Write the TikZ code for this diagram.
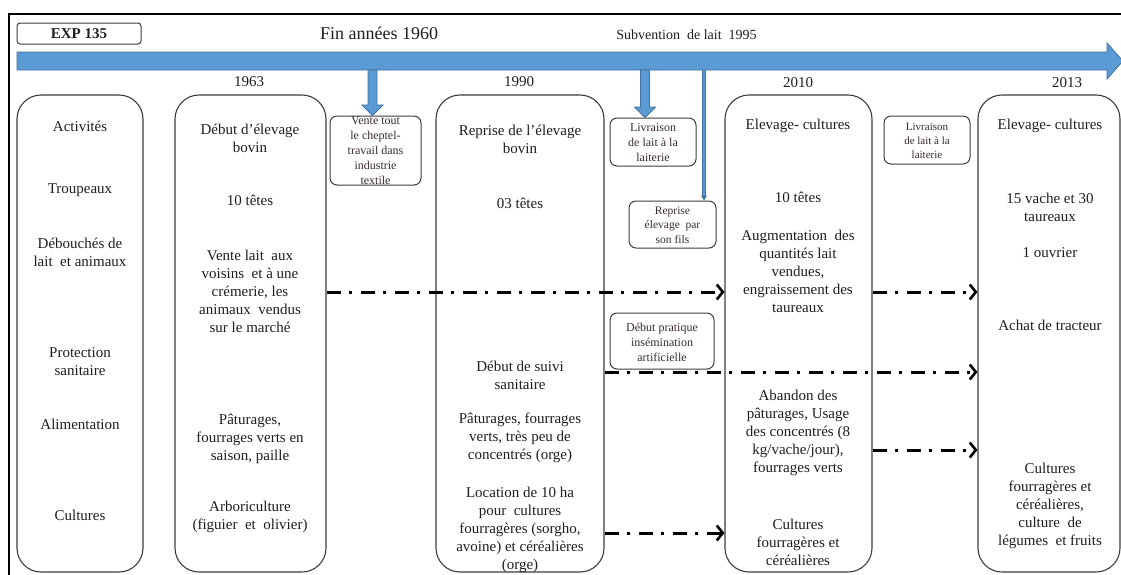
\documentclass[tikz,border=0pt]{standalone}
\usepackage{fontspec}
\setmainfont{Liberation Serif}
\usetikzlibrary{arrows.meta,calc}
\definecolor{barblue}{HTML}{5B9BD5}
\definecolor{baredge}{HTML}{41719C}
\definecolor{boxedge}{HTML}{3C3C3C}
\definecolor{smalltext}{HTML}{3A2A30}
\definecolor{maintext}{HTML}{1E1E1E}
\begin{document}
\begin{tikzpicture}[x=1pt,y=-1pt,
  bigbox/.style={draw=boxedge, line width=1.1pt, rounded corners=24pt, minimum height=477pt, inner sep=0pt},
  smallbox/.style={draw=boxedge, line width=1pt, rounded corners=7pt, inner sep=0pt},
  txt/.style={align=center, font=\fontsize{15}{18}\selectfont, text=maintext, inner sep=0pt},
  stxt/.style={align=center, font=\fontsize{12}{15}\selectfont, text=smalltext, inner sep=0pt},
  yeartxt/.style={font=\fontsize{15}{18}\selectfont, text=maintext, inner sep=0pt},
  flow/.style={line width=3pt, dash pattern=on 14pt off 8pt on 3pt off 9pt, -{Straight Barb[length=6pt,width=15pt,line width=2.6pt]}},
  blockarrow/.style={fill=barblue, draw=baredge, line width=0.8pt},
]
\useasboundingbox (0,0) rectangle (1121,574);
\clip (0,0) rectangle (1121,574);
\fill[white] (0,0) rectangle (1121,574);

% outer frame
\draw[line width=1.3pt, black] (9,14) rectangle (1140,590);

% header
\node[draw=boxedge, line width=1pt, rounded corners=3pt, minimum width=124pt, minimum height=21pt, inner sep=0pt,
  font=\fontsize{15}{18}\selectfont\bfseries, text=maintext] (exp) at (79,33.5) {EXP 135};
\node[font=\fontsize{18}{20}\selectfont, text=maintext, inner sep=0pt] (fin) at (379,33) {Fin années 1960};
\node[font=\fontsize{14}{16}\selectfont, text=maintext, inner sep=0pt] (sub) at (686.5,35) {Subvention\ \ de lait\ \ 1995};

% timeline bar
\draw[blockarrow] (17,52) -- (1107,52) -- (1107,43) -- (1123,61) -- (1107,79) -- (1107,70) -- (17,70) -- cycle;
\coordinate (bar) at (560,70);

% years
\node[yeartxt] (y1963) at (249,82) {1963};
\node[yeartxt] (y1990) at (519,82) {1990};
\node[yeartxt] (y2010) at (798,83) {2010};
\node[yeartxt] (y2013) at (1067,83) {2013};

% big columns
\node[bigbox, minimum width=126pt] (c1) at (80,333.5) {};
\node[bigbox, minimum width=151pt] (c2) at (250.5,333.5) {};
\node[bigbox, minimum width=168pt] (c3) at (520,333.5) {};
\node[bigbox, minimum width=147pt] (c4) at (798.5,333.5) {};
\node[bigbox, minimum width=142pt] (c5) at (1049,333.5) {};

% small boxes
\node[smallbox, minimum width=91pt, minimum height=69pt] (s1) at (375.5,150.5) {};
\node[smallbox, minimum width=86pt, minimum height=48pt] (s2) at (653,142) {};
\node[smallbox, minimum width=87pt, minimum height=47pt] (s3) at (672.5,224.5) {};
\node[smallbox, minimum width=104pt, minimum height=56pt] (s4) at (662,341) {};
\node[smallbox, minimum width=86pt, minimum height=48pt] (s5) at (927,140) {};

\node[stxt] (s1t) at (375.5,151) {Vente tout\\le cheptel-\\travail dans\\industrie\\textile};
\node[stxt] (s2t) at (653,143) {Livraison\\de lait à la\\laiterie};
\node[stxt, font=\fontsize{11.5}{14.5}\selectfont] (s3t) at (672.5,225) {Reprise\\élevage\ \ par\\son fils};
\node[stxt] (s4t) at (662,342) {Début pratique\\insémination\\artificielle};
\node[stxt, font=\fontsize{11}{14}\selectfont] (s5t) at (927,140.5) {Livraison\\de lait à la\\laiterie};

% block arrows from the bar
\draw[blockarrow] (368,70) -- (377,70) -- (377,105) -- (383,105) -- (s1.north -| 372.5,0) -- (362,105) -- (368,105) -- cycle;
\draw[blockarrow] (640.5,70) -- (649.5,70) -- (649.5,107) -- (655.5,107) -- (s2.north -| 645,0) -- (634.5,107) -- (640.5,107) -- cycle;
% thin arrow to s3
\draw[line width=3.6pt, draw=baredge] (bar -| 704,0) -- ($(s3.north -| 704,0)+(0,-4)$);
\draw[line width=2pt, draw=barblue] (bar -| 704,0) -- ($(s3.north -| 704,0)+(0,-4)$);
\fill[baredge] ($(s3.north -| 704,0)+(-3,-5)$) -- ($(s3.north -| 704,0)+(3,-5)$) -- (s3.north -| 704,0) -- cycle;

% column 1
\node[txt] (a1) at (80,126) {Activités};
\node[txt] (a2) at (80,190) {Troupeaux};
\node[txt] (a3) at (80,252.5) {Débouchés de\\lait\ \ et animaux};
\node[txt] (a4) at (80,361.5) {Protection\\sanitaire};
\node[txt] (a5) at (80,424) {Alimentation};
\node[txt] (a6) at (80,515) {Cultures};

% column 2
\node[txt] (b1) at (250,138) {Début d’élevage\\bovin};
\node[txt] (b2) at (250,200) {10 têtes};
\node[txt] (b3) at (250,291.5) {Vente lait\ \ aux\\voisins\ \ et à une\\crémerie, les\\animaux\ \ vendus\\sur le marché};
\node[txt] (b4) at (250,439) {Pâturages,\\fourrages verts en\\saison, paille};
\node[txt] (b5) at (250,517) {Arboriculture\\(figuier\ \ et\ \ olivier)};

% column 3
\node[txt] (d1) at (520,139) {Reprise de l’élevage\\bovin};
\node[txt] (d2) at (520,203) {03 têtes};
\node[txt] (d3) at (520,375) {Début de suivi\\sanitaire};
\node[txt] (d4) at (520,438) {Pâturages, fourrages\\verts, très peu de\\concentrés (orge)};
\node[txt] (d5) at (520,529.5) {Location de 10 ha\\pour\ \ cultures\\fourragères (sorgho,\\avoine) et céréalières\\(orge)};

% column 4
\node[txt] (e1) at (798,126) {Elevage- cultures};
\node[txt] (e2) at (798,197) {10 têtes};
\node[txt] (e3) at (798,271) {Augmentation\ \ des\\quantités lait\\vendues,\\engraissement des\\taureaux};
\node[txt] (e4) at (798,433) {Abandon des\\pâturages, Usage\\des concentrés (8\\kg/vache/jour),\\fourrages verts};
\node[txt] (e5) at (798,542) {Cultures\\fourragères et\\céréalières};

% column 5
\node[txt] (f1) at (1050,126) {Elevage- cultures};
\node[txt] (f2) at (1050,207) {15 vache et 30\\taureaux};
\node[txt] (f3) at (1050,253) {1 ouvrier};
\node[txt] (f4) at (1050,325) {Achat de tracteur};
\node[txt] (f5) at (1050,506) {Cultures\\fourragères et\\céréalières,\\culture\ \ de\\légumes\ \ et fruits};

% dash-dot flows
\draw[flow] (c2.east |- 0,292) -- (c4.west |- 0,292);
\draw[flow] (c4.east |- 0,292) -- (c5.west |- 0,292);
\draw[flow] (c3.east |- 0,372) -- (c5.west |- 0,372);
\draw[flow] (c4.east |- 0,450) -- (c5.west |- 0,450);
\draw[flow] (c3.east |- 0,533) -- (c4.west |- 0,533);
\end{tikzpicture}
\end{document}
